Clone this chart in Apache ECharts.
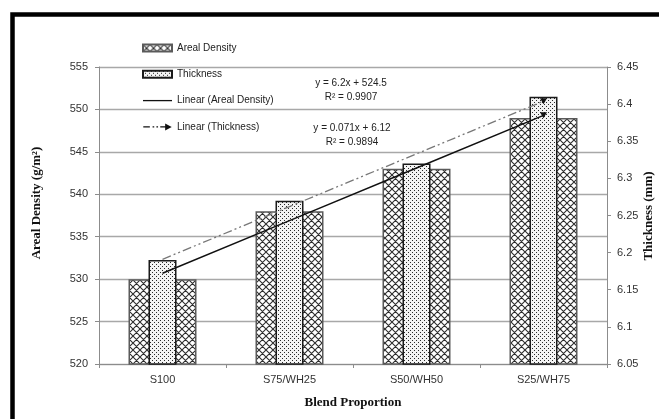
<!DOCTYPE html>
<html>
<head>
<meta charset="utf-8">
<script src="https://cdn.jsdelivr.net/npm/echarts@6/dist/echarts.min.js"></script>
<style>
html,body{margin:0;padding:0;background:#fff}
#chart{width:659px;height:419px}
</style>
</head>
<body>
<div id="chart"></div>
<script>
// Blend proportions and measured fabric properties
const categories = ['S100', 'S75/WH25', 'S50/WH50', 'S25/WH75'];
const arealDensity = [530, 538, 543, 549];          // g/m²
const thickness = [6.19, 6.27, 6.32, 6.41];         // mm
// Linear trend values at each blend
const arealTrend = [530.7, 536.9, 543.1, 549.3];
const thicknessTrend = [6.191, 6.262, 6.333, 6.404];
// Axis ranges
const densityAxis = [520, 555, 5];
const thicknessAxis = [6.05, 6.45, 0.05];
// Trendline equations
const arealEquation = ['y = 6.2x + 524.5', 'R² = 0.9907'];
const thicknessEquation = ['y = 0.071x + 6.12', 'R² = 0.9894'];

const SANS = '"Liberation Sans", Arial, sans-serif';
const SERIF = '"Liberation Serif", "Times New Roman", serif';

// Cross-hatch fill tile
function hatchTile() {
  const s = 7;
  const c = document.createElement('canvas');
  c.width = s; c.height = s;
  const g = c.getContext('2d');
  g.fillStyle = '#ffffff';
  g.fillRect(0, 0, s, s);
  g.strokeStyle = '#2e2e2e';
  g.lineWidth = 1.1;
  g.beginPath();
  for (const k of [-s, 0, s]) {
    g.moveTo(k, 0); g.lineTo(k + s, s);
    g.moveTo(k + s, 0); g.lineTo(k, s);
  }
  g.stroke();
  return c;
}

// Dotted fill tile
function dotTile() {
  const c = document.createElement('canvas');
  c.width = 4; c.height = 4;
  const g = c.getContext('2d');
  g.fillStyle = '#f4f4f4';
  g.fillRect(0, 0, 4, 4);
  g.fillStyle = '#2a2a2a';
  g.fillRect(0, 0, 1, 1);
  g.fillRect(2, 2, 1, 1);
  return c;
}

const hatchFill = { image: hatchTile(), repeat: 'repeat' };
const dotFill = { image: dotTile(), repeat: 'repeat' };

// Trend line with an arrow head at its last point
function trendData(values) {
  return values.map((v, i) => i === values.length - 1
    ? { value: v, symbol: 'triangle', symbolSize: [7, 6], symbolRotate: 180 }
    : { value: v, symbol: 'none' });
}

// Legend glyphs for the trend lines
const solidIcon = 'path://M0,0H29V1.3H0Z';
const dashDotArrowIcon = 'path://M0,2.6H6V3.8H0Z M8.5,2.6H10V3.8H8.5Z M12,2.6H13.5V3.8H12Z M15.5,2.6H21V3.8H15.5Z M20,0L26,3.2L20,6.4Z';

const chart = echarts.init(document.getElementById('chart'), null, { renderer: 'canvas' });

const axisLabelStyle = { fontFamily: SANS, fontSize: 11, color: '#333' };

chart.setOption({
  animation: false,
  backgroundColor: '#ffffff',
  grid: { left: 99, right: 52, top: 67, bottom: 55 },
  legend: {
    orient: 'vertical',
    left: 137,
    top: 36,
    itemWidth: 29,
    itemHeight: 7,
    itemGap: 12.3,
    textStyle: { fontFamily: SANS, fontSize: 10, color: '#222', lineHeight: 14 },
    data: [
      { name: 'Areal Density', icon: 'rect' },
      { name: 'Thickness', icon: 'rect' },
      { name: 'Linear (Areal Density)', icon: solidIcon },
      { name: 'Linear (Thickness)', icon: dashDotArrowIcon }
    ]
  },
  xAxis: [
    {
      type: 'category',
      data: categories,
      axisLine: { lineStyle: { color: '#8c8c8c', width: 1 } },
      axisTick: { show: true, length: 4, lineStyle: { color: '#8c8c8c' } },
      axisLabel: Object.assign({ margin: 10 }, axisLabelStyle)
    },
    {
      type: 'category',
      data: categories,
      show: false
    }
  ],
  yAxis: [
    {
      type: 'value',
      min: densityAxis[0], max: densityAxis[1], interval: densityAxis[2],
      axisLine: { show: true, lineStyle: { color: '#8c8c8c' } },
      axisTick: { show: true, length: 4, lineStyle: { color: '#8c8c8c' } },
      axisLabel: Object.assign({ margin: 11 }, axisLabelStyle),
      splitLine: { lineStyle: { color: '#a8a8a8', width: 1.3 } }
    },
    {
      type: 'value',
      min: thicknessAxis[0], max: thicknessAxis[1], interval: thicknessAxis[2],
      position: 'right',
      axisLine: { show: true, lineStyle: { color: '#8c8c8c' } },
      axisTick: { show: true, length: 4, lineStyle: { color: '#8c8c8c' } },
      axisLabel: Object.assign({ margin: 10, formatter: v => String(+v.toFixed(2)) }, axisLabelStyle),
      splitLine: { show: false }
    }
  ],
  series: [
    {
      name: 'Areal Density',
      type: 'bar',
      xAxisIndex: 0, yAxisIndex: 0,
      barWidth: 68,
      data: arealDensity,
      itemStyle: { color: hatchFill, borderColor: '#5a5a5a', borderWidth: 1.5 },
      z: 2
    },
    {
      name: 'Thickness',
      type: 'bar',
      xAxisIndex: 1, yAxisIndex: 1,
      barWidth: 28,
      data: thickness,
      itemStyle: { color: dotFill, borderColor: '#1a1a1a', borderWidth: 1.5 },
      z: 3
    },
    {
      name: 'Linear (Areal Density)',
      type: 'line',
      xAxisIndex: 0, yAxisIndex: 0,
      symbol: 'none',
      symbolKeepAspect: true,
      data: trendData(arealTrend),
      lineStyle: { color: '#111', width: 1.5 },
      itemStyle: { color: '#111' },
      z: 5
    },
    {
      name: 'Linear (Thickness)',
      type: 'line',
      xAxisIndex: 0, yAxisIndex: 1,
      symbol: 'none',
      symbolKeepAspect: true,
      data: trendData(thicknessTrend),
      lineStyle: { color: '#777', width: 1.3, type: [9, 3, 2, 3, 2, 3] },
      itemStyle: { color: '#111' },
      z: 5
    }
  ],
  graphic: [
    {
      type: 'rect',
      silent: true,
      shape: { x: 12.5, y: 14.5, width: 700, height: 460 },
      style: { fill: null, stroke: '#000', lineWidth: 4.5 },
      z: 100
    },
    {
      type: 'text', x: 37, y: 203, rotation: Math.PI / 2,
      style: { text: 'Areal Density (g/m²)', font: 'bold 13px ' + SERIF, fill: '#111', align: 'center', verticalAlign: 'middle' }
    },
    {
      type: 'text', x: 649, y: 216, rotation: Math.PI / 2,
      style: { text: 'Thickness (mm)', font: 'bold 13px ' + SERIF, fill: '#111', align: 'center', verticalAlign: 'middle' }
    },
    {
      type: 'text', x: 353, y: 403,
      style: { text: 'Blend Proportion', font: 'bold 13px ' + SERIF, fill: '#111', align: 'center', verticalAlign: 'middle' }
    },
    {
      type: 'text', x: 351, y: 83,
      style: { text: arealEquation[0], font: '10px ' + SANS, fill: '#222', align: 'center', verticalAlign: 'middle' }
    },
    {
      type: 'text', x: 351, y: 97,
      style: { text: arealEquation[1], font: '10px ' + SANS, fill: '#222', align: 'center', verticalAlign: 'middle' }
    },
    {
      type: 'text', x: 352, y: 128,
      style: { text: thicknessEquation[0], font: '10px ' + SANS, fill: '#222', align: 'center', verticalAlign: 'middle' }
    },
    {
      type: 'text', x: 352, y: 142,
      style: { text: thicknessEquation[1], font: '10px ' + SANS, fill: '#222', align: 'center', verticalAlign: 'middle' }
    }
  ]
});
</script>
</body>
</html>
